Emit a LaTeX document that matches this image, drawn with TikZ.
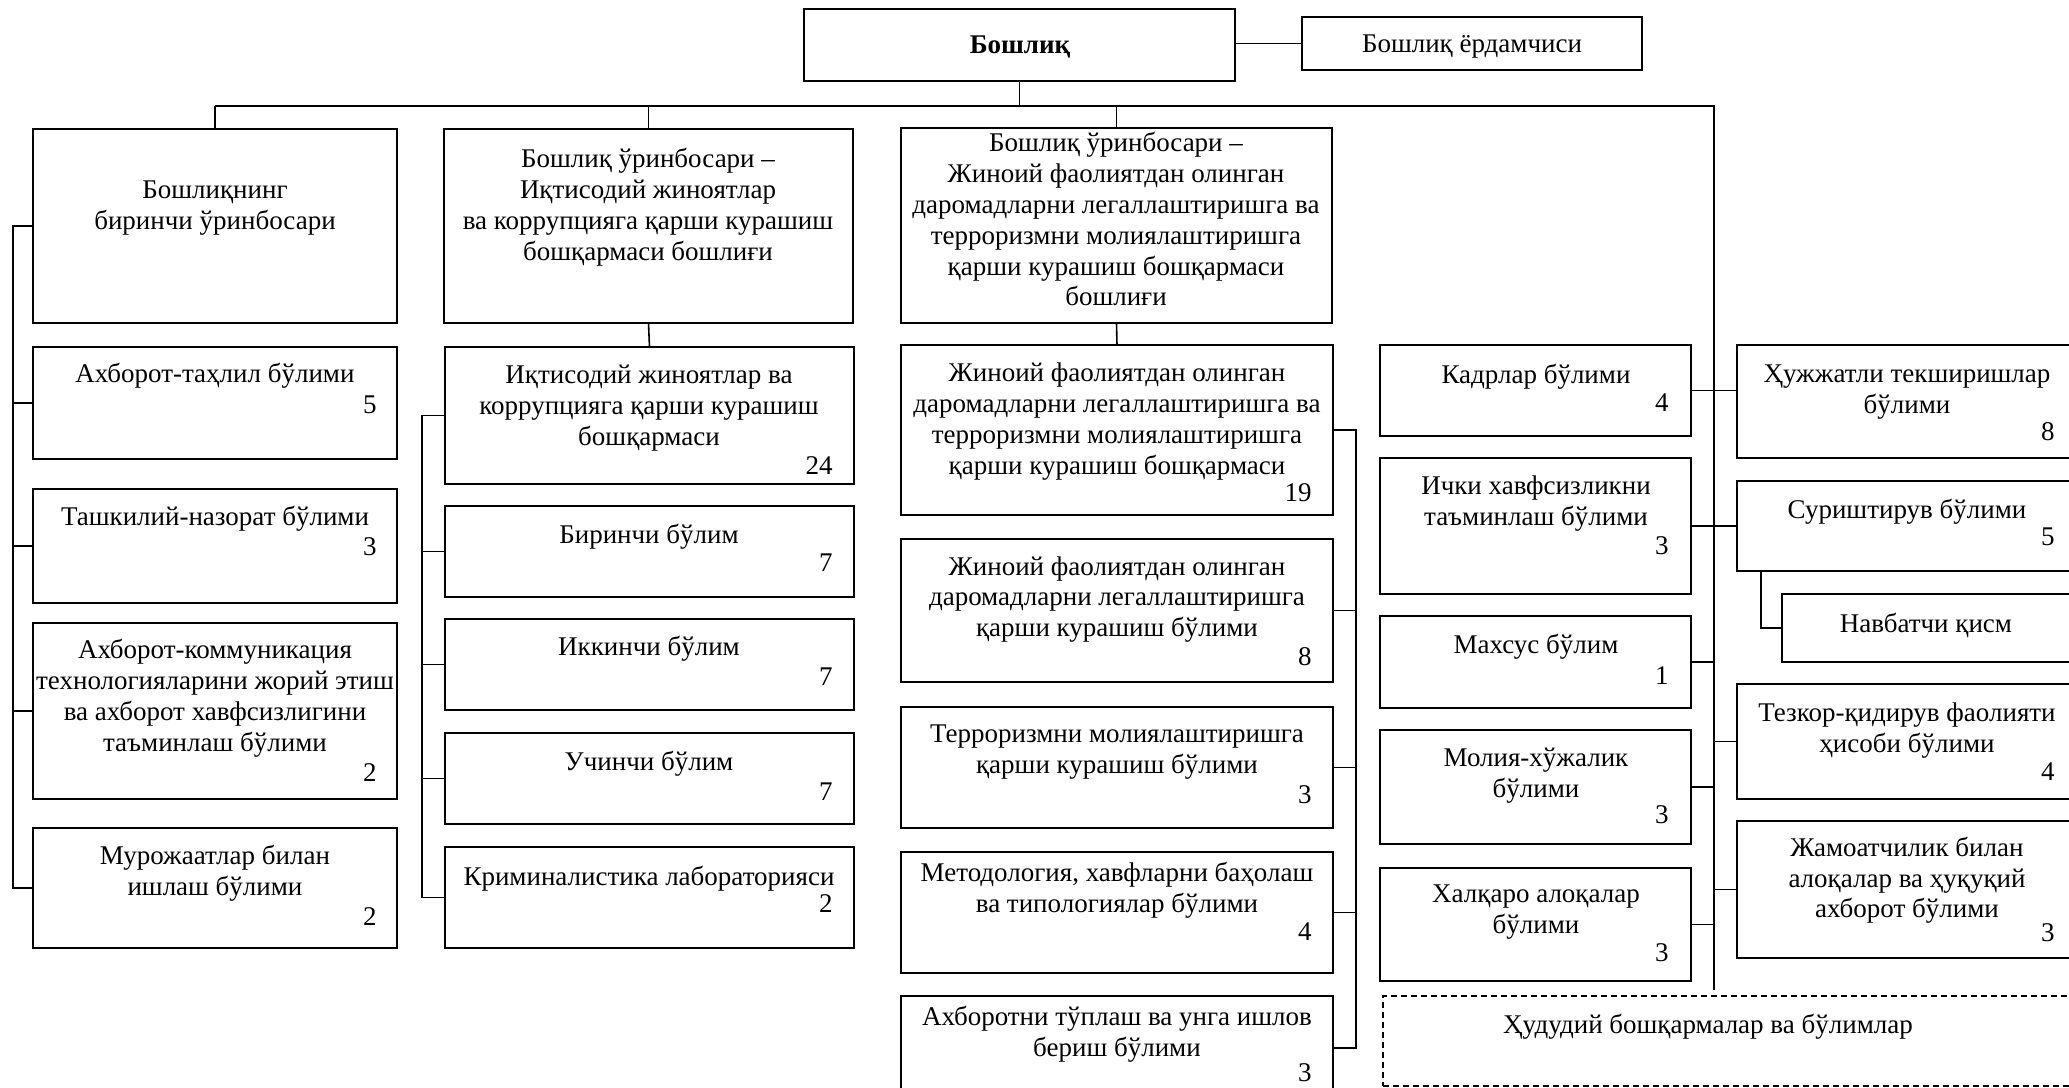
\documentclass[tikz,border=0pt]{standalone}
\usepackage{fontspec}
\setmainfont{Liberation Serif}
\begin{document}
\newcommand\orgbox[6][obox]{\node[#1,minimum width={(#4-#2)*0.5pt},minimum height={(#6-#3)*0.5pt}] (#5) at ({(#2+#4)/2},{(#3+#6)/2}) {};}
\begin{tikzpicture}[x=0.5pt,y=-0.5pt,
  obox/.style={draw,line width=0.9pt,rectangle,inner sep=0pt,outer sep=0pt},
  dbox/.style={obox,dash pattern=on 3pt off 2pt},
  txt/.style={align=center,inner sep=0pt,yshift=-1.7pt,font=\fontsize{13.5}{15.4}\selectfont},
  num/.style={anchor=east,inner sep=0pt,font=\fontsize{13.5}{15.4}\selectfont},
  conn/.style={line width=0.8pt}]
\useasboundingbox (0,0) rectangle (2069,1088);
\clip (0,0) rectangle (2069,1088);
% ---------- top ----------
\orgbox{804}{9}{1235}{boss}{81}
\orgbox{1302}{17}{1642}{asst}{70}
\node[txt,font=\fontsize{13.5}{15.4}\selectfont\bfseries] (bosst) at (1020,44) {Бошлиқ};
\node[txt] (asstt) at (1472,43) {Бошлиқ ёрдамчиси};
\orgbox{33}{129}{397}{c1top}{323}
\orgbox{444}{129}{853}{c2top}{323}
\orgbox{901}{128}{1332}{c3top}{323}
\node[txt] (c1topt) at (215,205) {Бошлиқнинг\\биринчи ўринбосари};
\node[txt] (c2topt) at (648,204) {Бошлиқ ўринбосари –\\Иқтисодий жиноятлар\\ва коррупцияга қарши курашиш\\бошқармаси бошлиғи};
\node[txt] (c3topt) at (1116,216) {Бошлиқ ўринбосари –\\Жиноий фаолиятдан олинган\\даромадларни легаллаштиришга ва\\терроризмни молиялаштиришга\\қарши курашиш бошқармаси\\бошлиғи};
% ---------- column 1 ----------
\orgbox{33}{347}{397}{a1}{459}
\orgbox{33}{489}{397}{a2}{603}
\orgbox{33}{623}{397}{a3}{799}
\orgbox{33}{828}{397}{a4}{948}
\node[txt] (a1t) at (215,372) {Ахборот-таҳлил бўлими};
\node[num] (a1n) at (377,405) {5};
\node[txt] (a2t) at (215,515) {Ташкилий-назорат бўлими};
\node[num] (a2n) at (377,547) {3};
\node[txt] (a3t) at (215,695) {Ахборот-коммуникация\\технологияларини жорий этиш\\ва ахборот хавфсизлигини\\таъминлаш бўлими};
\node[num] (a3n) at (377,773) {2};
\node[txt] (a4t) at (215,870) {Мурожаатлар билан\\ишлаш бўлими};
\node[num] (a4n) at (377,917) {2};
% ---------- column 2 ----------
\orgbox{445}{347}{854}{b1}{484}
\orgbox{445}{506}{854}{b2}{597}
\orgbox{445}{619}{854}{b3}{710}
\orgbox{445}{733}{854}{b4}{824}
\orgbox{445}{847}{854}{b5}{948}
\node[txt] (b1t) at (649,405) {Иқтисодий жиноятлар ва\\коррупцияга қарши курашиш\\бошқармаси};
\node[num] (b1n) at (833,466) {24};
\node[txt] (b2t) at (649,533) {Биринчи бўлим};
\node[num] (b2n) at (833,563) {7};
\node[txt] (b3t) at (649,645) {Иккинчи бўлим};
\node[num] (b3n) at (833,677) {7};
\node[txt] (b4t) at (649,760) {Учинчи бўлим};
\node[num] (b4n) at (833,792) {7};
\node[txt] (b5t) at (649,875) {Криминалистика лабораторияси};
\node[num] (b5n) at (833,904) {2};
% ---------- column 3 ----------
\orgbox{901}{345}{1333}{d1}{515}
\orgbox{901}{539}{1333}{d2}{682}
\orgbox{901}{707}{1333}{d3}{828}
\orgbox{901}{852}{1333}{d4}{973}
\orgbox{901}{996}{1333}{d5}{1100}
\node[txt] (d1t) at (1117,418) {Жиноий фаолиятдан олинган\\даромадларни легаллаштиришга ва\\терроризмни молиялаштиришга\\қарши курашиш бошқармаси};
\node[num] (d1n) at (1312,493) {19};
\node[txt] (d2t) at (1117,596) {Жиноий фаолиятдан олинган\\даромадларни легаллаштиришга\\қарши курашиш бўлими};
\node[num] (d2n) at (1312,657) {8};
\node[txt] (d3t) at (1117,749) {Терроризмни молиялаштиришга\\қарши курашиш бўлими};
\node[num] (d3n) at (1312,795) {3};
\node[txt] (d4t) at (1117,887) {Методология, хавфларни баҳолаш\\ва типологиялар бўлими};
\node[num] (d4n) at (1312,932) {4};
\node[txt] (d5t) at (1117,1031) {Ахборотни тўплаш ва унга ишлов\\бериш бўлими};
\node[num] (d5n) at (1312,1073) {3};
% ---------- column 4 ----------
\orgbox{1380}{345}{1691}{e1}{436}
\orgbox{1380}{458}{1691}{e2}{594}
\orgbox{1380}{616}{1691}{e3}{708}
\orgbox{1380}{730}{1691}{e4}{844}
\orgbox{1380}{868}{1691}{e5}{981}
\node[txt] (e1t) at (1536,373) {Кадрлар бўлими};
\node[num] (e1n) at (1669,403) {4};
\node[txt] (e2t) at (1536,500) {Ички хавфсизликни\\таъминлаш бўлими};
\node[num] (e2n) at (1669,546) {3};
\node[txt] (e3t) at (1536,643) {Махсус бўлим};
\node[num] (e3n) at (1669,676) {1};
\node[txt] (e4t) at (1536,772) {Молия-хўжалик\\бўлими};
\node[num] (e4n) at (1669,815) {3};
\node[txt] (e5t) at (1536,909) {Халқаро алоқалар\\бўлими};
\node[num] (e5n) at (1669,953) {3};
% ---------- column 5 ----------
\orgbox{1737}{345}{2100}{f1}{458}
\orgbox{1737}{481}{2100}{f2}{571}
\orgbox{1782}{594}{2100}{f3}{662}
\orgbox{1737}{684}{2100}{f4}{799}
\orgbox{1737}{821}{2100}{f5}{958}
\orgbox[dbox]{1383}{996}{2100}{g}{1086}
\node[txt] (f1t) at (1907,389) {Ҳужжатли текширишлар\\бўлими};
\node[num] (f1n) at (2055,432) {8};
\node[txt] (f2t) at (1907,508) {Суриштирув бўлими};
\node[num] (f2n) at (2055,537) {5};
\node[txt] (f3t) at (1926,622) {Навбатчи қисм};
\node[txt] (f4t) at (1907,727) {Тезкор-қидирув фаолияти\\ҳисоби бўлими};
\node[num] (f4n) at (2055,772) {4};
\node[txt] (f5t) at (1907,877) {Жамоатчилик билан\\алоқалар ва ҳуқуқий\\ахборот бўлими};
\node[num] (f5n) at (2055,933) {3};
\node[txt] (gt) at (1708,1023) {Ҳудудий бошқармалар ва бўлимлар};
% ---------- connectors ----------
\coordinate (busL) at (215,106);
\coordinate (busR) at (1714,106);
\coordinate (busRend) at (1714,990);
\coordinate (v1) at (13,0);
\coordinate (v2) at (422,0);
\coordinate (v3) at (1356,0);
\begin{scope}[conn]
\draw (asst.west -| boss.east) -- (asst.west);
\draw (boss.south) -- (boss.south |- busL);
\draw (busL) -- (busR) -- (busRend);
\draw (busL) -- (c1top.north);
\draw (c2top.north |- busL) -- (c2top.north);
\draw (c3top.north |- busL) -- (c3top.north);
% column 1
\draw (c1top.west) -| (v1 |- a4.west) -- (a4.west);
\foreach \n in {a1,a2,a3} \draw (\n.west) -- (v1 |- \n.west);
% column 2
\draw (c2top.south) -- (b1.north);
\draw (b1.west) -| (v2 |- b5.west) -- (b5.west);
\foreach \n in {b2,b3,b4} \draw (\n.west) -- (v2 |- \n.west);
% column 3
\draw (c3top.south) -- (d1.north);
\draw (d1.east) -| (v3 |- d5.east) -- (d5.east);
\foreach \n in {d2,d3,d4} \draw (\n.east) -- (v3 |- \n.east);
% column 4
\foreach \n in {e1,e2,e3,e4,e5} \draw (\n.east) -- (busR |- \n.east);
% column 5
\draw (busR |- e1.east) -- (f1.west |- e1.east);
\foreach \n in {f2,f4,f5} \draw (busR |- \n.west) -- (\n.west);
\draw (f2.south west) ++(24,0) |- (f3.west);
\end{scope}
\end{tikzpicture}
\end{document}
